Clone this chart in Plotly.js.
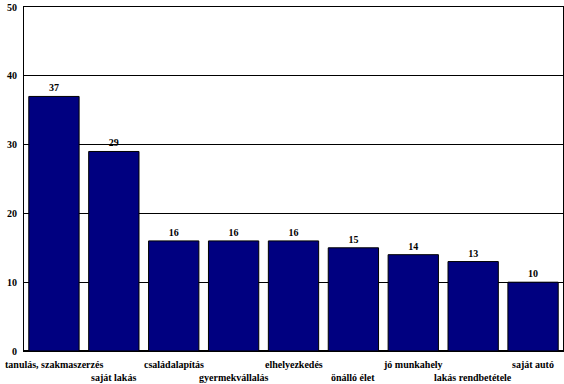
<!DOCTYPE html>
<html>
<head>
<meta charset="utf-8">
<script src="https://cdn.plot.ly/plotly-3.0.1.min.js"></script>
<style>html,body{margin:0;padding:0;background:#fff}#chart{width:564px;height:384px}</style>
</head>
<body>
<div id="chart"></div>
<script>
const categories = ["tanulás, szakmaszerzés","saját lakás","családalapítás","gyermekvállalás","elhelyezkedés","önálló élet","jó munkahely","lakás rendbetétele","saját autó"];
const values = [37, 29, 16, 16, 16, 15, 14, 13, 10];
const yTicks = [0, 10, 20, 30, 40, 50];

const fontFam = '"Liberation Serif", "Times New Roman", serif';
const annotations = categories.map((c, i) => ({
  x: c, xref: 'x', y: 0, yref: 'paper',
  text: '<b>' + c + '</b>', showarrow: false,
  xanchor: 'center', yanchor: 'middle',
  yshift: i % 2 === 0 ? -13.5 : -26.5,
  font: {family: fontFam, size: 10, color: '#000'}
}));

Plotly.newPlot('chart', [{
  type: 'bar', x: categories, y: values,
  marker: {color: '#000080', line: {color: '#000', width: 1}},
  text: values.map(String), textposition: 'outside', cliponaxis: false,
  textfont: {family: fontFam, size: 10, color: '#000', weight: 'bold'},
  hoverinfo: 'none'
}], {
  width: 564, height: 384,
  margin: {l: 23.5, r: 0.5, t: 7, b: 32.5, autoexpand: false},
  paper_bgcolor: '#fff', plot_bgcolor: '#fff',
  showlegend: false, bargap: 0.16,
  font: {family: fontFam, size: 10, color: '#000'},
  xaxis: {automargin: false, range: [-0.5, categories.length - 0.5], showticklabels: false, ticks: '', showline: true, linecolor: '#000', linewidth: 1, mirror: true, showgrid: false},
  yaxis: {automargin: false, range: [0, 50], tickvals: yTicks, ticktext: yTicks.map(v => '<b>' + v + '</b>'),
    showgrid: true, gridcolor: '#000', gridwidth: 1, showline: true, linecolor: '#000', linewidth: 1, mirror: true,
    zeroline: true, zerolinecolor: '#000', zerolinewidth: 2, ticks: 'outside', ticklen: 4, tickcolor: 'rgba(0,0,0,0)',
    tickfont: {family: fontFam, size: 10, color: '#000'}},
  annotations: annotations
}, {staticPlot: true});
</script>
</body>
</html>
